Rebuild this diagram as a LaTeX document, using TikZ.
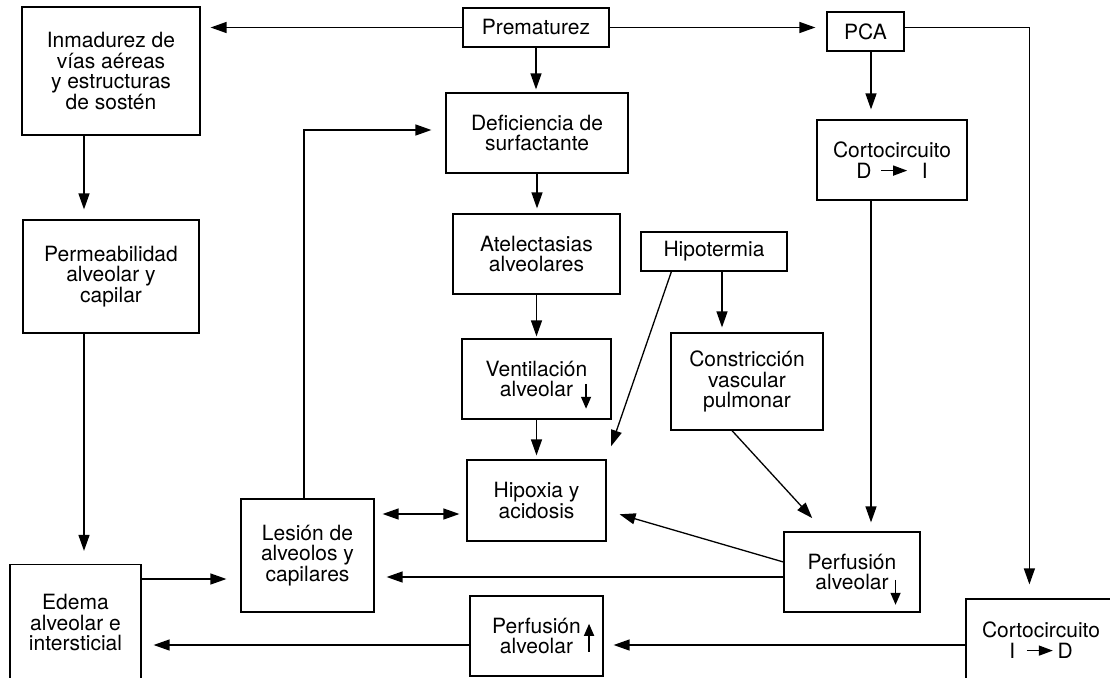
\documentclass[tikz,border=0pt]{standalone}
\usepackage{fontspec}
\setmainfont{TeX Gyre Heros}
\usetikzlibrary{arrows.meta}
\newcommand{\flechav}[2]{\tikz[baseline=0pt]\draw[line width=1.4pt,-{Triangle[length=12pt,width=10pt]}] (0pt,#1) -- (0pt,#2);}
\newcommand{\flechah}{\tikz[baseline=0pt]\draw[line width=1.4pt,-{Triangle[length=14pt,width=10pt]}] (0pt,7.5pt) -- (26pt,7.5pt);}
\tikzset{
  caja/.style={draw=black,line width=1.2pt,align=center,inner sep=2pt,font=\fontsize{21}{20.5}\selectfont},
  flow/.style={-{Triangle[length=16pt,width=11pt]},line width=1.3pt,shorten >=10pt},
  flowboth/.style={{Triangle[length=16pt,width=11pt]}-{Triangle[length=16pt,width=11pt]},line width=1.3pt,shorten <=7pt,shorten >=8pt},
}
\begin{document}
\begin{tikzpicture}[x=1pt,y=-1pt]
    \useasboundingbox (0,0) rectangle (1110,677);
    \fill[white] (0,0) rectangle (1110,677);
    \clip (0,0) rectangle (1110,677);
    \node[caja,minimum width=178pt,minimum height=128pt] (inma) at (111,71) {Inmadurez de\\vías aéreas\\y estructuras\\de sostén};
    \node[caja,minimum width=146pt,minimum height=39pt] (prem) at (536,27.5) {Prematurez};
    \node[caja,minimum width=77pt,minimum height=39pt] (pca) at (865.5,31.5) {PCA};
    \node[caja,minimum width=176pt,minimum height=113pt] (perm) at (111,276.5) {Permeabilidad\\alveolar y\\capilar};
    \node[caja,minimum width=182pt,minimum height=80pt] (defi) at (537,133) {Deficiencia de\\surfactante};
    \node[caja,minimum width=150pt,minimum height=80pt] (cdi) at (892,160) {Cortocircuito\\D\hspace{9pt}\flechah\hspace{14pt}I};
    \node[caja,minimum width=167pt,minimum height=80pt] (atel) at (536.5,254) {Atelectasias\\alveolares};
    \node[caja,minimum width=146pt,minimum height=39pt] (hipot) at (714,251.5) {Hipotermia};
    \node[caja,minimum width=149pt,minimum height=80pt] (vent) at (536.5,379) {Ventilación\\alveolar\rlap{\hspace{8pt}\smash{\flechav{13pt}{-12pt}}}};
    \node[caja,minimum width=152pt,minimum height=97pt] (constr) at (747,381.5) {Constricción\\vascular\\pulmonar};
    \node[caja,minimum width=139pt,minimum height=81pt] (hipox) at (536.5,500.5) {Hipoxia y\\acidosis};
    \node[caja,minimum width=133pt,minimum height=113pt] (lesion) at (307.5,555.5) {Lesión de\\alveolos y\\capilares};
    \node[caja,minimum width=136pt,minimum height=80pt] (perfd) at (852,572) {Perfusión\\alveolar\rlap{\hspace{2pt}\smash{\flechav{10pt}{-15pt}}}};
    \node[caja,minimum width=133pt,minimum height=80pt] (perfu) at (536.5,636) {Perfusión\\alveolar\rlap{\hspace{11pt}\smash{\flechav{2pt}{30pt}}}};
    \node[caja,minimum width=131pt,minimum height=116pt] (edema) at (75.5,622.5) {Edema\\alveolar e\\intersticial};
    \node[caja,minimum width=150pt,minimum height=82pt] (cid) at (1041,640) {Cortocircuito\\I\hspace{11pt}\flechah\hspace{4pt}D};
    \coordinate (pcax) at ([xshift=5.5pt]pca.south);
    \draw[flow] (prem.west) -- (prem.west -| inma.east);
    \draw[flow,shorten >=11pt] (prem.east) -- (prem.east -| pca.west);
    \draw[flow,shorten >=14pt] (pca.east |- prem.east) -| ([xshift=64pt]cid.north west);
    \draw[flow] (pcax) -- (pcax |- cdi.north);
    \draw[flow,shorten >=9pt] (cdi.south -| pcax) -- (perfd.north -| pcax);
    \draw[flow,shorten >=3pt] (prem.south) -- (prem.south |- defi.north);
    \draw[flow,shorten >=5pt] (defi.south) -- (defi.south |- atel.north);
    \draw[flow,shorten >=2pt] (atel.south) -- (atel.south |- vent.north);
    \draw[flow,shorten >=4pt] (vent.south) -- (vent.south |- hipox.north);
    \draw[flow,shorten >=5pt] ([xshift=8pt]hipot.south) -- ([xshift=8pt]hipot.south |- constr.north);
    \draw[flow,shorten >=14pt] ([xshift=31pt]hipot.south west) -- (hipox.north east);
    \draw[flow,shorten >=18pt] ([xshift=-15pt]constr.south) -- ([xshift=41pt]perfd.north west);
    \draw[flow,shorten >=13.5pt] ([yshift=10pt]perfd.west) -- ([yshift=-10pt]hipox.east);
    \draw[flow,shorten >=12pt] ([yshift=-5pt]perfd.west) -- ([yshift=-5pt]perfd.west -| lesion.east);
    \draw[flowboth] ([yshift=-13.5pt]hipox.west) -- ([yshift=-13.5pt]hipox.west -| lesion.east);
    \draw[flow,shorten >=14pt] ([xshift=-3.5pt]lesion.north) |- ([yshift=3pt]defi.west);
    \draw[flow] ([xshift=-27pt]inma.south) -- ([xshift=-27pt]inma.south |- perm.north);
    \draw[flow,shorten >=13pt] ([xshift=-27pt]perm.south) -- ([xshift=-27pt]perm.south |- edema.north);
    \draw[flow,shorten >=14pt] ([yshift=43.5pt]edema.east) -- ([yshift=43.5pt]edema.east -| lesion.west);
    \draw[flow,shorten >=12pt] ([yshift=-9pt]perfu.west) -- ([yshift=-9pt]perfu.west -| edema.east);
    \draw[flow] ([yshift=-5pt]cid.west) -- ([yshift=-5pt]cid.west -| perfu.east);
\end{tikzpicture}
\end{document}
